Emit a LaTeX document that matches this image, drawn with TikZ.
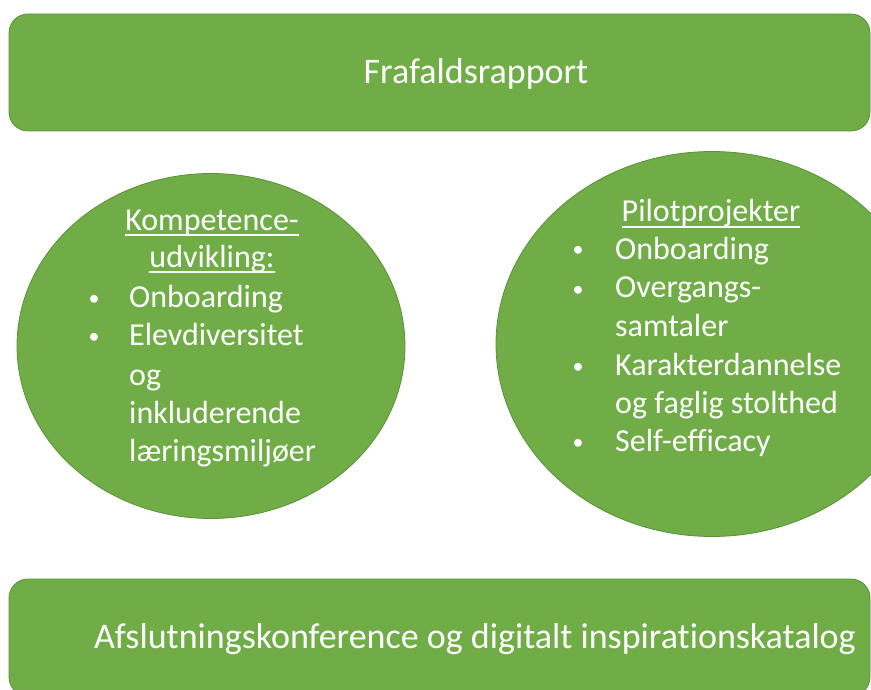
\documentclass[tikz,border=0pt]{standalone}
\usepackage{fontspec}
\setmainfont{Carlito}[Ligatures={NoCommon}]
\usetikzlibrary{shapes.geometric}
\definecolor{officegreen}{HTML}{70AD47}
\definecolor{greenedge}{HTML}{5B9038}
\newsavebox\ulbox
\newcommand\myul[1]{\sbox\ulbox{#1}\rlap{\rule[-6pt]{\wd\ulbox}{1.6pt}}\usebox\ulbox}
\begin{document}
\begin{tikzpicture}[x=1pt,y=-1pt,
  box/.style={draw=greenedge, line width=0.8pt, fill=officegreen, rounded corners=19pt, inner sep=0pt},
  blob/.style={ellipse, draw=greenedge, line width=0.8pt, fill=officegreen, inner sep=0pt},
  bigtxt/.style={text=white, font=\fontsize{36}{42}\selectfont, inner sep=0pt},
  txt/.style={text=white, font=\fontsize{32}{38}\selectfont, inner sep=0pt, anchor=base west},
  ctxt/.style={text=white, font=\fontsize{32}{38}\selectfont, inner sep=0pt, anchor=base},
  bul/.style={text=white, font=\fontsize{22}{26}\selectfont, inner sep=0pt, anchor=base}]
\useasboundingbox (0,0) rectangle (871,690);
\clip (0,0) rectangle (871,690);
% boxes
\node[box, minimum width=861pt, minimum height=117pt] (top) at (439.5,72.5) {};
\node[box, minimum width=861pt, minimum height=117pt] (bottom) at (439.5,637.5) {};
\node[bigtxt] (toptext) at (476,74) {Frafaldsrapport};
\node[bigtxt] (bottomtext) at (475,639) {Afslutningskonference og digitalt inspirationskatalog};
% ellipses
\node[blob, minimum width=388pt, minimum height=345pt] (left) at (211,346) {};
\node[blob, minimum width=432pt, minimum height=385pt] (right) at (712,344) {};
% left text
\node[ctxt] (l1) at (212,230) {\myul{Kompetence-}};
\node[ctxt] (l2) at (212,267) {\myul{udvikling:}};
\node[bul] (lb1) at (94,305) {•};
\node[txt] (l3) at (129,307) {Onboarding};
\node[bul] (lb2) at (94,343) {•};
\node[txt] (l4) at (129,345) {Elevdiversitet};
\node[txt] (l5) at (129,385) {og};
\node[txt] (l6) at (129,423) {inkluderende};
\node[txt] (l7) at (129,461) {læringsmiljøer};
% right text
\node[ctxt] (r1) at (711,222) {\myul{Pilotprojekter}};
\node[bul] (rb1) at (578,257) {•};
\node[txt] (r2) at (615,259) {Onboarding};
\node[bul] (rb2) at (578,296) {•};
\node[txt] (r3) at (615,298) {Overgangs-};
\node[txt] (r4) at (615,336) {samtaler};
\node[bul] (rb3) at (578,373) {•};
\node[txt] (r5) at (615,375) {Karakterdannelse};
\node[txt] (r6) at (615,413) {og faglig stolthed};
\node[bul] (rb4) at (578,449) {•};
\node[txt] (r7) at (615,451) {Self-efficacy};
\end{tikzpicture}
\end{document}
